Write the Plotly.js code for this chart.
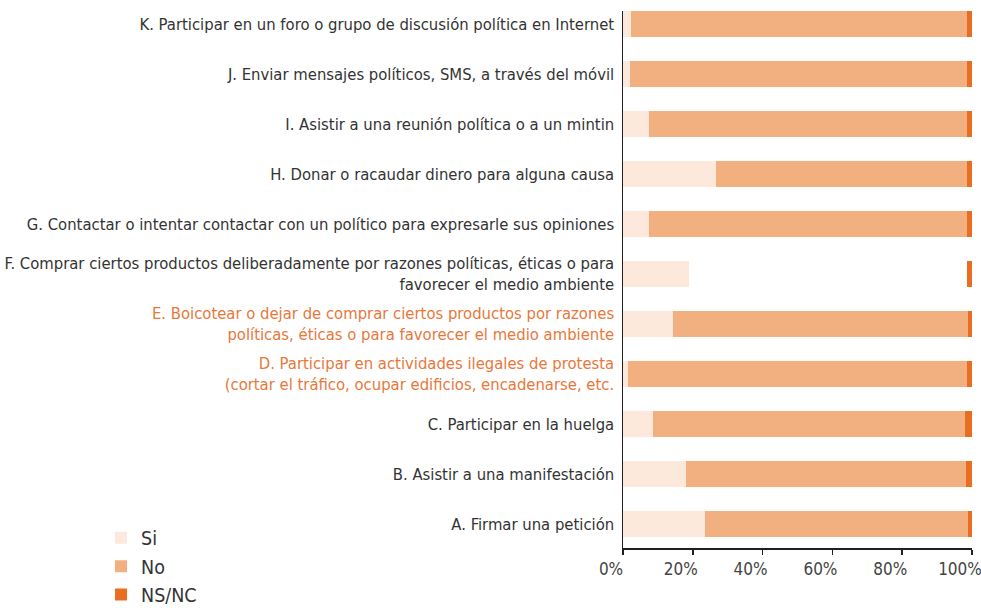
<!DOCTYPE html>
<html>
<head>
<meta charset="utf-8">
<script src="https://cdn.plot.ly/plotly-3.0.1.min.js"></script>
<style>html,body{margin:0;padding:0;background:#fff;}#chart{width:981px;height:608px;}</style>
</head>
<body>
<div id="chart"></div>
<script>
var categories = ["A", "B", "C", "D", "E", "F", "G", "H", "I", "J", "K"];
var labels = [
  "A. Firmar una petición",
  "B. Asistir a una manifestación",
  "C. Participar en la huelga",
  "D. Participar en actividades ilegales de protesta<br>(cortar el tráfico, ocupar edificios, encadenarse, etc.",
  "E. Boicotear o dejar de comprar ciertos productos por razones<br>políticas, éticas o para favorecer el medio ambiente",
  "F. Comprar ciertos productos deliberadamente por razones políticas, éticas o para<br>favorecer el medio ambiente",
  "G. Contactar o intentar contactar con un político para expresarle sus opiniones",
  "H. Donar o racaudar dinero para alguna causa",
  "I. Asistir a una reunión política o a un mintin",
  "J. Enviar mensajes políticos, SMS, a través del móvil",
  "K. Participar en un foro o grupo de discusión política en Internet"
];
var si   = [23.4, 18.0, 8.5, 1.3, 14.2, 18.8, 7.4, 26.6, 7.4, 1.9, 2.2];
var no   = [75.4, 80.2, 89.4, 97.2, 84.6, 79.7, 91.1, 71.9, 91.1, 96.6, 96.3];
var nsnc = [1.2, 1.8, 2.1, 1.5, 1.2, 1.5, 1.5, 1.5, 1.5, 1.5, 1.5];
var xTickVals = [0, 20, 40, 60, 80, 100];
var xTickText = ["0%", "20%", "40%", "60%", "80%", "100%"];
var highlighted = ["D", "E"];
var hiddenNo = ["F"];

var FONT = '"Liberation Sans Narrow", "DejaVu Sans Condensed", "Arial Narrow", sans-serif';
var ORANGE = '#e8773a';
var ticktext = labels.map(function (t, i) {
  if (highlighted.indexOf(categories[i]) >= 0) {
    return t.split('<br>').map(function (s) { return '<span style="color:' + ORANGE + '">' + s + '</span>'; }).join('<br>');
  }
  return t;
});
var noColors = categories.map(function (c) { return hiddenNo.indexOf(c) >= 0 ? 'rgba(0,0,0,0)' : '#f2af80'; });

var traces = [
  {name: 'Si', y: categories, x: si, type: 'bar', orientation: 'h', marker: {color: '#fce9dc'}, width: 0.52},
  {name: 'No', y: categories, x: no, type: 'bar', orientation: 'h', marker: {color: noColors}, width: 0.52},
  {name: 'NS/NC', y: categories, x: nsnc, type: 'bar', orientation: 'h', marker: {color: '#e96e22'}, width: 0.52}
];

var layout = {
  width: 981, height: 608,
  margin: {l: 623, r: 9, t: 11, b: 60, autoexpand: false},
  barmode: 'stack',
  paper_bgcolor: '#fff', plot_bgcolor: '#fff',
  font: {family: FONT, size: 17, color: '#333333'},
  showlegend: true,
  legend: {
    xref: 'container', yref: 'container',
    x: 0.103, xanchor: 'left', y: 0.147, yanchor: 'top',
    traceorder: 'normal', font: {family: FONT, size: 19.5, color: '#333333'},
    tracegroupgap: 0, itemwidth: 30, bgcolor: 'rgba(0,0,0,0)'
  },
  xaxis: {
    range: [0, 100], tickmode: 'array', tickvals: xTickVals, ticktext: xTickText,
    ticklabeloverflow: 'allow', ticklabelshift: -12,
    showgrid: false, zeroline: false, showline: true, linecolor: '#231f20', linewidth: 1.5,
    ticks: 'outside', ticklen: 5, tickcolor: '#231f20', tickwidth: 1.5,
    tickfont: {family: FONT, size: 17, color: '#444444'}
  },
  yaxis: {
    type: 'category', categoryorder: 'array', categoryarray: categories,
    tickmode: 'array', tickvals: categories, ticktext: ticktext,
    range: [-0.48, 10.26],
    showgrid: false, zeroline: false, showline: true, linecolor: '#231f20', linewidth: 1.5,
    ticks: '', ticklabelstandoff: 4,
    tickfont: {family: FONT, size: 16.5, color: '#333333'}
  }
};

Plotly.newPlot('chart', traces, layout, {displayModeBar: false, staticPlot: true});
</script>
</body>
</html>
